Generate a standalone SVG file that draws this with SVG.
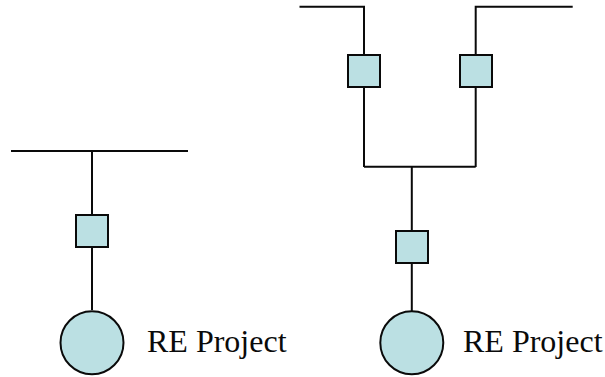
<svg xmlns="http://www.w3.org/2000/svg" width="605" height="377" viewBox="0 0 605 377">
<style>
.c{fill:none;stroke:#0a0a0a;stroke-width:2}
.n{fill:#bbe0e3;stroke:#0a0a0a;stroke-width:2}
.t{font-family:"Liberation Serif","Times New Roman",serif;font-size:32px;fill:#0a0a0a}
</style>
<rect width="605" height="377" fill="#ffffff"/>
<g id="connectors">
<path class="c" d="M11 151H188M92 151V310"/>
<path class="c" d="M299.500 6.700H364V167M572.700 6.700H475.700V167M364 166.700H475.700M411.800 166.700V311"/>
</g>
<g id="switch-left"><rect class="n" x="76" y="215" width="32" height="32"/></g>
<g id="project-left"><circle class="n" cx="92" cy="342.800" r="31.500"/><text class="t" x="147" y="352">RE Project</text></g>
<g id="switch-top-left"><rect class="n" x="348" y="55" width="32" height="32"/></g>
<g id="switch-top-right"><rect class="n" x="460" y="55" width="32" height="32"/></g>
<g id="switch-bottom"><rect class="n" x="396" y="231" width="32" height="32"/></g>
<g id="project-right"><circle class="n" cx="411.800" cy="342.800" r="31.500"/><text class="t" x="463" y="352">RE Project</text></g>
</svg>
